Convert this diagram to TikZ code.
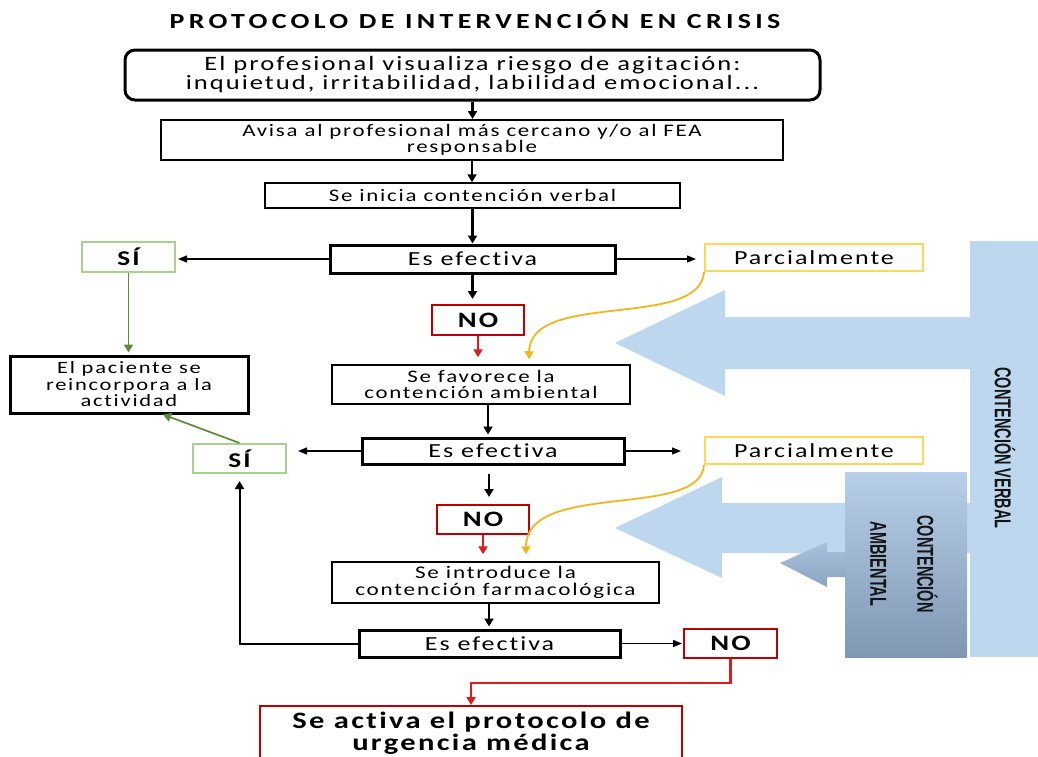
\documentclass[tikz,border=0pt]{standalone}
\usepackage{fontspec}
\usepackage{graphicx}
\usetikzlibrary{arrows.meta}
\newfontfamily\bodyf[FakeStretch=1.3,LetterSpace=10,Ligatures=NoCommon]{Carlito}
\newfontfamily\titlef[FakeStretch=1.3,LetterSpace=20,Ligatures=NoCommon]{Carlito}
\newfontfamily\condf[FakeStretch=0.63]{Liberation Sans}
\newcommand\fsz[2]{\fontsize{#1}{#2}\selectfont}
\definecolor{lblue}{HTML}{BDD7EE}
\definecolor{ambtop}{HTML}{B7CFE8}
\definecolor{ambbot}{HTML}{7F97B2}
\definecolor{smtop}{HTML}{A9C2DC}
\definecolor{smbot}{HTML}{8AA3C0}
\definecolor{redB}{HTML}{C00000}
\definecolor{redA}{HTML}{E01B1B}
\definecolor{greenL}{HTML}{A9D18E}
\definecolor{greenD}{HTML}{5B8C3A}
\definecolor{yelL}{HTML}{FFD757}
\definecolor{yelD}{HTML}{F2B51D}
\definecolor{txtd}{HTML}{151515}
\tikzset{
  bx/.style={draw, fill=white, inner sep=0pt, align=center, font=\bodyf\fsz{17.6}{16}},
  thickbx/.style={bx, line width=3pt},
  sibx/.style={bx, draw=greenL, line width=2pt, font=\bodyf\bfseries\fsz{21}{22}},
  nobx/.style={bx, draw=redB, line width=2pt, font=\bodyf\bfseries\fsz{22}{23}},
  parbx/.style={bx, draw=yelL, line width=2pt, font=\bodyf\fsz{20}{21}},
  varr/.style={line width=2.2pt, -{Triangle[length=8pt,width=9pt]}},
  harr/.style={line width=1.3pt, -{Triangle[length=9pt,width=7pt]}},
  rarr/.style={line width=2.2pt, draw=redA, -{Triangle[length=8pt,width=9pt]}},
  garr/.style={line width=1.7pt, draw=greenD, -{Triangle[length=8pt,width=9pt]}},
  yarr/.style={line width=1.8pt, draw=yelD, -{Triangle[length=8pt,width=9pt]}},
  rottxt/.style={rotate=-90, inner sep=0pt, text=txtd, align=center, font=\condf\bfseries\fsz{23}{47}}
}
\begin{document}
\begin{tikzpicture}[x=1pt,y=-1pt]
\useasboundingbox (0,0) rectangle (1038,756);
\clip (0,0) rectangle (1038,756);
\fill[white] (0,0) rectangle (1038,756);

% blue shapes
\fill[lblue] (970,241) rectangle (1038,657);
\fill[lblue] (615,343) -- (725,290) -- (725,317) -- (972,317) -- (972,369) -- (725,369) -- (725,396) -- cycle;
\fill[lblue] (615,528) -- (722,477) -- (722,503) -- (972,503) -- (972,553) -- (722,553) -- (722,578) -- cycle;
\shade[top color=ambtop, bottom color=ambbot] (845,472) rectangle (967,657);
\shade[top color=smtop, bottom color=smbot] (780,563) -- (827,542) -- (827,552) -- (846,552) -- (846,577) -- (827,577) -- (827,587) -- cycle;
\node[rottxt] (tverbal) at (1005,448) {CONTENCIÓN VERBAL};
\node[rottxt] (tamb) at (904,564) {CONTENCIÓN\\AMBIENTAL};

% title
\node[inner sep=0pt, font=\titlef\bfseries\fsz{21.5}{22}] (title) at (475,20) {PROTOCOLO DE INTERVENCIÓN EN CRISIS};

% boxes
\node[thickbx, rounded corners=10pt, minimum width=695pt, minimum height=50pt, font=\bodyf\fsz{20.4}{19}] (b1) at (472.5,75) {El profesional visualiza riesgo de agitación:\\inquietud, irritabilidad, labilidad emocional...};
\node[bx, line width=2pt, minimum width=622pt, minimum height=40pt] (b2) at (472,140) {Avisa al profesional más cercano y/o al FEA\\responsable};
\node[bx, line width=1.5pt, minimum width=415pt, minimum height=25pt] (b3) at (472.5,195.5) {Se inicia contención verbal};
\node[thickbx, minimum width=285pt, minimum height=28pt, font=\bodyf\fsz{20}{19}] (b4) at (472.5,259) {Es efectiva};
\node[sibx, minimum width=93pt, minimum height=30pt] (si1) at (128.5,257) {SÍ};
\node[parbx, minimum width=218pt, minimum height=27pt] (pa1) at (814,257.5) {Parcialmente};
\node[nobx, minimum width=92pt, minimum height=30pt] (no1) at (478,320) {NO};
\node[thickbx, minimum width=238pt, minimum height=57pt, font=\bodyf\fsz{17.3}{16.5}] (pac) at (129,384.5) {El paciente se\\reincorpora a la\\actividad};
\node[bx, line width=1.5pt, minimum width=298pt, minimum height=39pt] (b5) at (481,384.5) {Se favorece la\\contención ambiental};
\node[thickbx, minimum width=262pt, minimum height=26pt, font=\bodyf\fsz{20}{19}] (b6) at (493,451) {Es efectiva};
\node[sibx, minimum width=93pt, minimum height=29pt] (si2) at (239.5,458.5) {SÍ};
\node[parbx, minimum width=218pt, minimum height=27pt] (pa2) at (814,450.5) {Parcialmente};
\node[nobx, minimum width=92pt, minimum height=29pt] (no2) at (483,519.5) {NO};
\node[bx, line width=1.5pt, minimum width=327pt, minimum height=41pt, font=\bodyf\fsz{17.8}{17}] (b7) at (495.5,582.5) {Se introduce la\\contención farmacológica};
\node[thickbx, minimum width=261pt, minimum height=27pt, font=\bodyf\fsz{20}{19}] (b8) at (489.5,643.5) {Es efectiva};
\node[nobx, minimum width=93pt, minimum height=29pt] (no3) at (730.5,643.5) {NO};
\node[bx, draw=redB, line width=2pt, minimum width=422pt, minimum height=54pt, font=\bodyf\bfseries\fsz{23.5}{22}] (fin) at (471,733) {Se activa el protocolo de\\urgencia médica};

% connectors
\draw[varr] (b1.south) -- (b1.south |- b2.north);
\draw[varr] (b2.south) -- (b2.south |- b3.north);
\draw[varr] (b3.south) -- (b3.south |- b4.north);
\draw[varr, shorten >=5pt] (b4.south) -- (b4.south |- no1.north);
\draw[rarr, shorten >=7pt] (no1.south) -- (no1.south |- b5.north);
\coordinate (a6) at ([xshift=7pt]b5.south);
\draw[varr, shorten >=2pt] (a6) -- (a6 |- b6.north);
\coordinate (a7) at ([xshift=-4pt]b6.south);
\draw[varr, shorten <=8pt, shorten >=7pt] (a7) -- (a7 |- no2.north);
\draw[rarr, shorten >=7pt] (no2.south) -- (no2.south |- b7.north);
\coordinate (a9) at ([xshift=-6.5pt]b7.south);
\draw[varr, shorten >=2pt] (a9) -- (a9 |- b8.north);
\draw[harr, shorten >=1pt] (b8.east) -- (no3.west);
\draw[harr, shorten >=23pt] (b6.east) -- (b6.east -| pa2.west);
\draw[harr, shorten >=8pt] (b4.east) -- (b4.east -| pa1.west);
\draw[harr, shorten >=2pt] (b4.west) -- (b4.west -| si1.east);
\draw[harr, shorten >=11pt] (b6.west) -- (b6.west -| si2.east);
\draw[varr, line width=2pt, shorten >=7pt] (b8.west) -| (si2.south);
\draw[garr, shorten >=2pt] (si1.south) -- (si1.south |- pac.north);
\coordinate (g2) at ([xshift=34pt]pac.south);
\draw[garr] (si2.north) -- (g2);
\coordinate (y1e) at ([xshift=48pt,yshift=5pt]b5.north);
\draw[yarr] (pa1.south west) .. controls (700,330) and (530,290) .. (y1e);
\coordinate (y2e) at ([xshift=30.5pt,yshift=7pt]b7.north);
\draw[yarr] (pa2.south west) .. controls (700,520) and (526,480) .. (y2e);
\draw[rarr] (no3.south) -- ++(0,24) -| (fin.north);
\end{tikzpicture}
\end{document}
